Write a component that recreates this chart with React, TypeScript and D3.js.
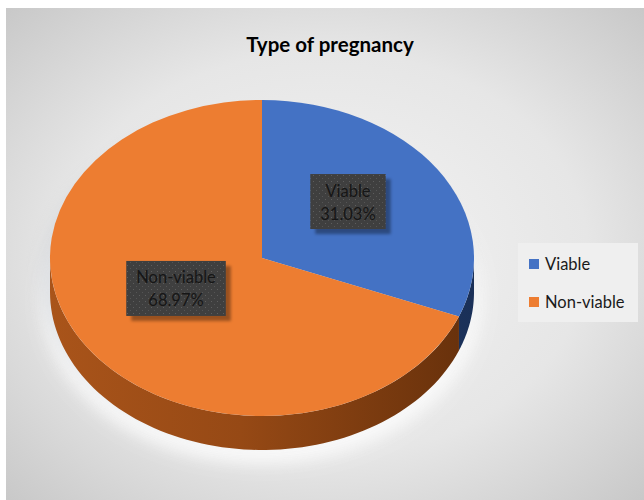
import React from "react";
import * as d3 from "d3";

const title = "Type of pregnancy";
const categories = ["Viable", "Non-viable"];
const values = [31.03, 68.97];
const topColors = ["#4472C4", "#ED7D31"];
const sideDark = ["#1a3058", "#66300b"];
const sideMid = ["#263f70", "#964915"];
const sideLight = ["#2f4c85", "#a9541a"];

const W = 644;
const H = 500;
const FONT = "Lato, 'Open Sans', 'Liberation Sans', sans-serif";

function measure(text: string, font: string): number {
  const c = document.createElement("canvas").getContext("2d");
  if (!c) return text.length * 8;
  c.font = font;
  return c.measureText(text).width;
}

export default function App() {
  const cx = 262;
  const cy = 258;
  const rx = 212;
  const ry = 158;
  const depth = 34;

  const total = d3.sum(values);
  const pie = d3.pie<number>().sort(null).value((d) => d);
  const arcs = pie(values);
  const arcGen = d3.arc<d3.PieArcDatum<number>>().innerRadius(0).outerRadius(1);

  const px = (a: number, dy = 0): [number, number] => [cx + rx * Math.sin(a), cy - ry * Math.cos(a) + dy];

  const sidePath = (a0: number, a1: number): string | null => {
    const s = Math.max(a0, Math.PI / 2);
    const e = Math.min(a1, (3 * Math.PI) / 2);
    if (e <= s) return null;
    const n = 80;
    const angles = d3.range(n + 1).map((i) => s + ((e - s) * i) / n);
    const top = angles.map((a) => px(a));
    const bottom = angles.slice().reverse().map((a) => px(a, depth));
    return (d3.line()([...top, ...bottom]) || "") + "Z";
  };

  const labelSize = 16.5;
  const labelFont = `${labelSize}px ${FONT}`;

  return (
    <svg width={W} height={H} style={{ position: "absolute", left: 0, top: 0, background: "#ffffff" }} fontFamily={FONT}>
      <defs>
        <radialGradient id="bg" cx="50%" cy="50%" r="75%">
          <stop offset="0%" stopColor="#f4f4f4" />
          <stop offset="55%" stopColor="#e6e6e6" />
          <stop offset="100%" stopColor="#c4c4c4" />
        </radialGradient>
        {categories.map((c, i) => (
          <linearGradient key={c} id={`side${i}`} gradientUnits="userSpaceOnUse" x1={cx - rx} y1={0} x2={cx + rx} y2={0}>
            <stop offset="0%" stopColor={sideLight[i]} />
            <stop offset="45%" stopColor={sideMid[i]} />
            <stop offset="100%" stopColor={sideDark[i]} />
          </linearGradient>
        ))}
        <pattern id="dots" width="6" height="6" patternUnits="userSpaceOnUse">
          <rect width="6" height="6" fill="#3f3f3f" />
          <rect x="1" y="1" width="1" height="1" fill="#5e5e5e" />
          <rect x="4" y="4" width="1" height="1" fill="#555555" />
        </pattern>
        <filter id="blur8" x="-30%" y="-30%" width="160%" height="160%">
          <feGaussianBlur stdDeviation="8" />
        </filter>
        <filter id="blur2" x="-20%" y="-20%" width="140%" height="140%">
          <feGaussianBlur stdDeviation="1.5" />
        </filter>
      </defs>

      <rect x={6} y={8} width={W - 6} height={H - 8} fill="url(#bg)" />

      <text x={330} y={52} textAnchor="middle" fontWeight="bold" fontSize={20.5} fill="#000">
        {title}
      </text>

      {/* soft glow under pie */}
      <ellipse cx={cx} cy={cy + depth + 8} rx={rx + 8} ry={ry + 6} fill="#fafafa" opacity={0.95} filter="url(#blur8)" />
      <ellipse cx={cx - 6} cy={cy + depth / 2 + 4} rx={rx + 2} ry={ry + 4} fill="#b9bfc8" opacity={0.4} filter="url(#blur8)" />

      {/* sides */}
      {arcs.map((a, i) => {
        const d = sidePath(a.startAngle, a.endAngle);
        return d ? <path key={`s${i}`} d={d} fill={`url(#side${i})`} /> : null;
      })}

      {/* top surface */}
      <g transform={`translate(${cx},${cy}) scale(${rx},${ry})`}>
        {arcs.map((a, i) => (
          <path key={`t${i}`} d={arcGen(a) || ""} fill={topColors[i]} />
        ))}
      </g>

      {/* data labels */}
      {arcs.map((a, i) => {
        const mid = (a.startAngle + a.endAngle) / 2;
        const [lx, ly0] = px(mid);
        const x = cx + (lx - cx) * 0.49;
        const y = cy + (ly0 - cy) * 0.49 - 13;
        const pct = ((values[i] / total) * 100).toFixed(2) + "%";
        const tw = Math.max(measure(categories[i], labelFont), measure(pct, labelFont));
        const bw = tw + 20;
        const bh = 55;
        return (
          <g key={`l${i}`}>
            <rect x={x - bw / 2 + 5} y={y - bh / 2 + 5} width={bw} height={bh} fill="#000" opacity={0.35} filter="url(#blur2)" />
            <rect x={x - bw / 2} y={y - bh / 2} width={bw} height={bh} fill="url(#dots)" />
            <text x={x} y={y - 5} textAnchor="middle" fontSize={labelSize} fill="#161616">
              {categories[i]}
            </text>
            <text x={x} y={y + 18} textAnchor="middle" fontSize={labelSize} fill="#161616">
              {pct}
            </text>
          </g>
        );
      })}

      {/* legend */}
      <rect x={518} y={243} width={120} height={79} fill="#efefef" />
      {categories.map((c, i) => (
        <g key={`lg${i}`} transform={`translate(529,${259 + i * 38})`}>
          <rect width={10} height={10} fill={topColors[i]} />
          <text x={16} y={10.5} fontSize={16.5} fill="#1a1a1a">
            {c}
          </text>
        </g>
      ))}
    </svg>
  );
}
